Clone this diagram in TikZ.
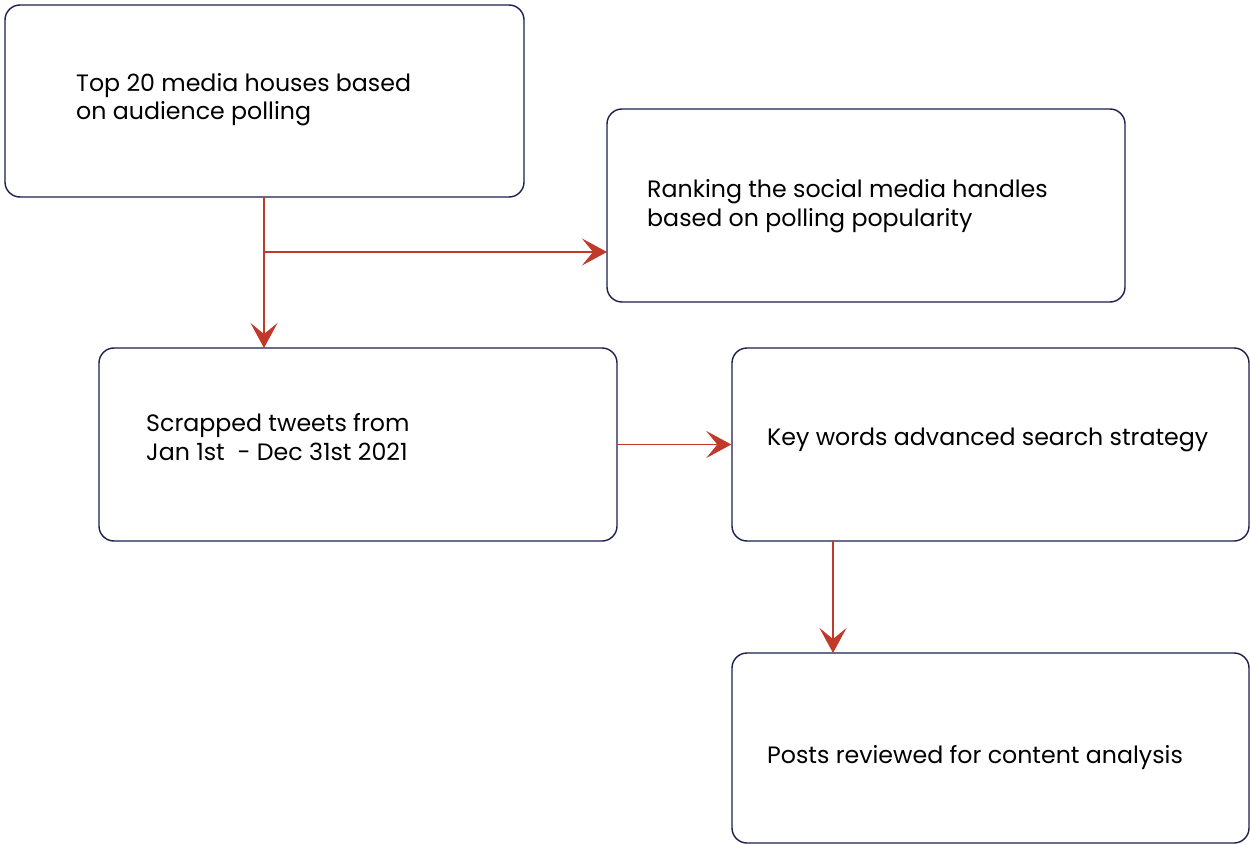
\documentclass[tikz,border=0pt]{standalone}
\usepackage{fontspec}
\setmainfont{Poppins}
\usetikzlibrary{arrows.meta}
\definecolor{boxline}{HTML}{1B1F4B}
\definecolor{arrowred}{HTML}{C0392B}
\begin{document}
\begin{tikzpicture}[x=1pt,y=-1pt,
  box/.style={draw=boxline,line width=1.4pt,rounded corners=15pt,rectangle,inner sep=0pt},
  label/.style={anchor=base west,inner sep=0pt,align=left,font=\fontsize{23.7}{28.5}\selectfont,text=black},
  conn/.style={draw=arrowred,line width=1.5pt,-{Stealth[length=25pt,width=27pt,inset=11pt]}}]
\useasboundingbox[fill=white] (0,0) rectangle (1250,845);
\node[box,minimum width=519pt,minimum height=192pt] (b1) at (264.5,101) {};
\node[box,minimum width=518pt,minimum height=193pt] (b2) at (866,205.5) {};
\node[box,minimum width=518pt,minimum height=193pt] (b3) at (358,444.5) {};
\node[box,minimum width=517pt,minimum height=193pt] (b4) at (990.5,444.5) {};
\node[box,minimum width=517pt,minimum height=190pt] (b5) at (990.5,748) {};
\node[label] (t1) at (76,120) {Top 20 media houses based\\on audience polling};
\node[label] (t2) at (647,226) {Ranking the social media handles\\based on polling popularity};
\node[label] (t3) at (146,460) {Scrapped tweets from\\Jan 1st\ \ - Dec 31st 2021};
\node[label] (t4) at (767,445) {Key words advanced search strategy};
\node[label] (t5) at (767,763) {Posts reviewed for content analysis};
\coordinate (s1) at (264,197);
\coordinate (j1) at (264,252);
\coordinate (e3) at (264,348);
\coordinate (e2) at (607,252);
\coordinate (s4) at (833,541);
\coordinate (e5) at (833,653);
\draw[conn] (s1) -- (e3);
\draw[conn] (j1) -- (e2);
\draw[conn] (b3.east) -- (b4.west);
\draw[conn] (s4) -- (e5);
\end{tikzpicture}
\end{document}
